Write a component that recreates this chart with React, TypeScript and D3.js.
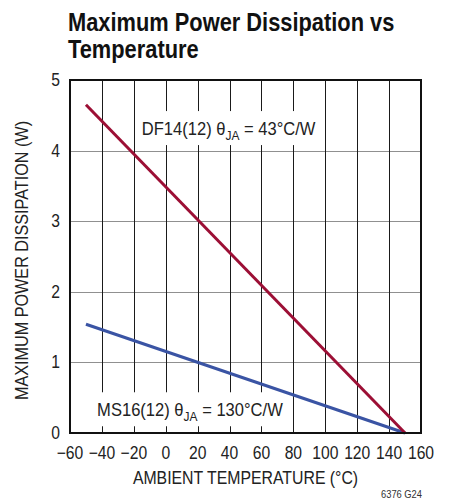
import React, { useEffect, useRef } from 'react';
import * as d3 from 'd3';

// values
const temperatures = [-50, 150];
const df14Power = [4.65, 0];
const ms16Power = [1.54, 0];
const xTicks = [-60, -40, -20, 0, 20, 40, 60, 80, 100, 120, 140, 160];
const yTicks = [0, 1, 2, 3, 4, 5];

const FONT = '"Liberation Sans", Arial, sans-serif';

const margin = { top: 80, right: 30, bottom: 69, left: 70 };
const width = 451 - margin.left - margin.right;
const height = 502 - margin.top - margin.bottom;

const App = () => {
    const svgRef = useRef<SVGSVGElement>(null);

    const x = d3.scaleLinear().domain([-60, 160]).range([0, width]);
    const y = d3.scaleLinear().domain([0, 5]).range([height, 0]);

    useEffect(() => {
        if (!svgRef.current) return;
        const svg = d3.select(svgRef.current);
        svg.selectAll('*').remove();

        // condensed text: scale glyphs horizontally around the anchor point
        const addText = (parent: any, tx: number, ty: number, size: number, sx: number, anchor = 'start') =>
            parent.append('text')
                .attr('transform', `translate(${tx},${ty}) scale(${sx},1)`)
                .attr('text-anchor', anchor)
                .attr('font-family', FONT)
                .attr('font-size', size)
                .attr('fill', '#222');

        // title
        addText(svg, 68, 31, 26, 0.84).attr('font-weight', 'bold').attr('fill', '#111')
            .text('Maximum Power Dissipation vs');
        addText(svg, 68, 58, 26, 0.84).attr('font-weight', 'bold').attr('fill', '#111')
            .text('Temperature');

        const g = svg.append('g')
            .attr('transform', `translate(${margin.left},${margin.top})`);

        const gridG = g.append('g');
        const boxG = g.append('g');
        const labelG = g.append('g');
        const lineG = g.append('g');

        // horizontal grid (gray)
        gridG.selectAll('line.h')
            .data(yTicks.slice(1, -1))
            .enter().append('line')
            .attr('class', 'h')
            .attr('x1', 0).attr('x2', width)
            .attr('y1', d => Math.round(y(d)) + 0.5).attr('y2', d => Math.round(y(d)) + 0.5)
            .style('stroke', '#909090')
            .style('stroke-width', '1px');

        // vertical grid (black)
        gridG.selectAll('line.v')
            .data(xTicks.slice(1, -1))
            .enter().append('line')
            .attr('class', 'v')
            .attr('x1', d => Math.round(x(d)) + 0.5).attr('x2', d => Math.round(x(d)) + 0.5)
            .attr('y1', 0).attr('y2', height)
            .style('stroke', '#1a1a1a')
            .style('stroke-width', '1px');

        // curve labels on white boxes that knock out the grid
        const labels = [
            { tx: -15, ty: 4.22, name: 'DF14(12) θ', val: ' = 43°C/W' },
            { tx: -43, ty: 0.237, name: 'MS16(12) θ', val: ' = 130°C/W' },
        ];
        labels.forEach(l => {
            const t = addText(labelG, x(l.tx), y(l.ty), 18, 0.92);
            t.append('tspan').text(l.name);
            t.append('tspan').attr('font-size', 13).attr('dy', 5).text('JA');
            t.append('tspan').attr('dy', -5).text(l.val);
            const w = (t.node() as SVGTextElement).getComputedTextLength() * 0.92;
            boxG.append('rect')
                .attr('x', x(l.tx) - 5)
                .attr('y', y(l.ty) - 24)
                .attr('width', w + 10)
                .attr('height', 34)
                .style('fill', 'white');
        });

        // lines
        const line = d3.line<number>()
            .x((_, i) => x(temperatures[i]))
            .y(d => y(d));

        lineG.append('path')
            .datum(ms16Power)
            .attr('d', line)
            .style('fill', 'none')
            .style('stroke', '#3a54a4')
            .style('stroke-width', '3px');

        lineG.append('path')
            .datum(df14Power)
            .attr('d', line)
            .style('fill', 'none')
            .style('stroke', '#9c0f35')
            .style('stroke-width', '3px');

        // x tick labels
        xTicks.forEach(d => {
            addText(g, x(d), height + 26, 18, 0.87, 'middle')
                .text(d < 0 ? '\u2212' + Math.abs(d) : String(d));
        });

        // y tick labels
        yTicks.forEach(d => {
            addText(g, -10, y(d) + 6, 18, 0.87, 'end').text(d);
        });

        // axis titles
        addText(g, width / 2, height + 51, 18, 0.88, 'middle')
            .text('AMBIENT TEMPERATURE (°C)');

        g.append('text')
            .attr('transform', `translate(-42,${height / 2 + 4}) rotate(-90) scale(0.9,1)`)
            .attr('text-anchor', 'middle')
            .attr('font-family', FONT)
            .attr('font-size', 18)
            .attr('fill', '#222')
            .text('MAXIMUM POWER DISSIPATION (W)');

        addText(svg, 422, 498, 11, 0.85, 'end').attr('fill', '#333').text('6376 G24');
    }, []);

    // plot frame in its own overlay layer
    const [x0, x1] = x.range();
    const [y0, y1] = y.range();

    return (
        <div style={{ position: 'absolute', left: 0, top: 0, width: 451, height: 502 }}>
            <svg ref={svgRef} width={451} height={502}
                style={{ position: 'absolute', left: 0, top: 0, background: 'white' }} />
            <svg width={451} height={502}
                style={{ position: 'absolute', left: 0, top: 0, pointerEvents: 'none' }}>
                <g transform={`translate(${margin.left},${margin.top})`}>
                    <rect x={x0} y={y1} width={x1 - x0} height={y0 - y1}
                        fill="none" stroke="#111" strokeWidth={2} />
                </g>
            </svg>
        </div>
    );
};

export default App;
